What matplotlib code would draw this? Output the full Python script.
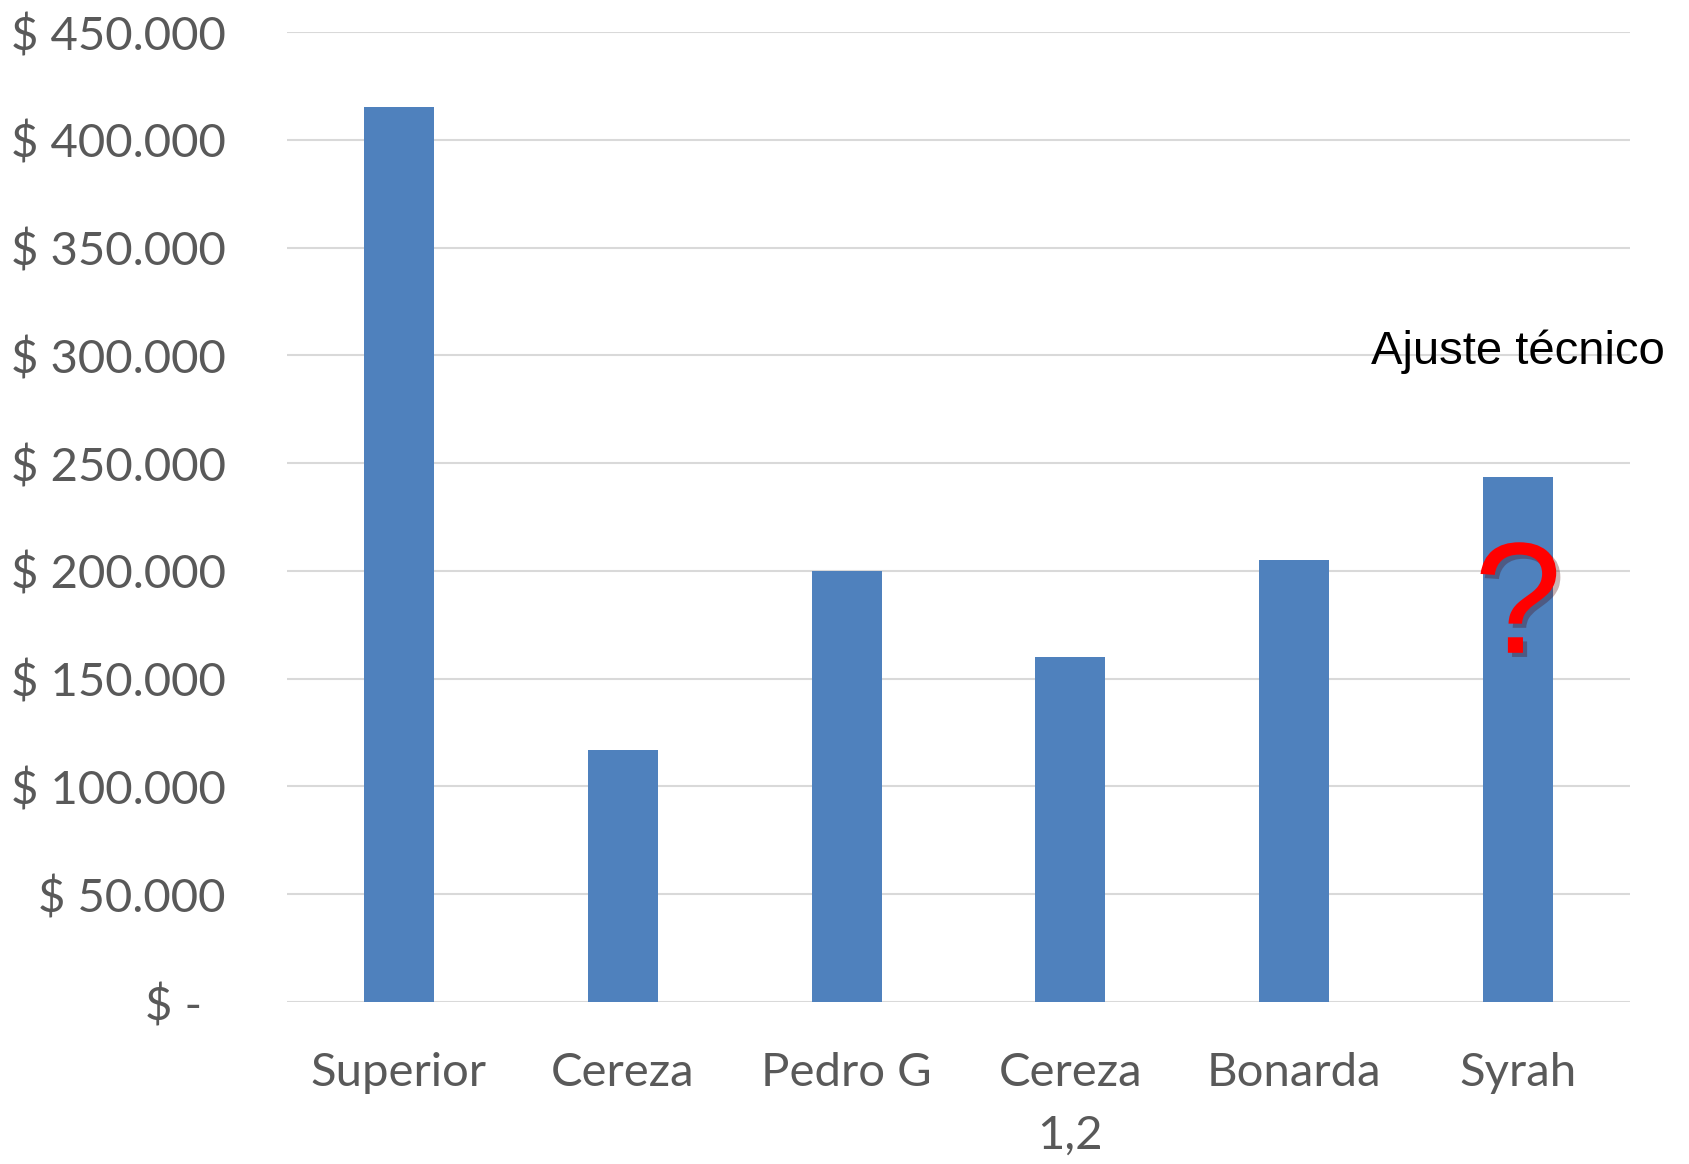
import matplotlib
matplotlib.use("Agg")
import matplotlib.pyplot as plt
import matplotlib.patheffects as pe

categorias = ["Superior", "Cereza", "Pedro G", "Cereza\n1,2", "Bonarda", "Syrah"]
precios = [415000, 117000, 200000, 160000, 205000, 243500]

ticks_y = [0, 50000, 100000, 150000, 200000, 250000, 300000, 350000, 400000, 450000]
etiquetas_y = ["$ -  ", "$ 50.000", "$ 100.000", "$ 150.000", "$ 200.000",
               "$ 250.000", "$ 300.000", "$ 350.000", "$ 400.000", "$ 450.000"]

nota = "Ajuste técnico"
nota_y = 296000
pregunta_y = 162000

fig = plt.figure(figsize=(16.9, 11.64), dpi=100)
ax = fig.add_axes([287 / 1690, 162 / 1164, 1343 / 1690, 970 / 1164])

x = range(len(categorias))
ax.bar(x, precios, width=0.313, color="#4F81BD", zorder=2)

ax.set_xlim(-0.5, len(categorias) - 0.5)
ax.set_ylim(0, 450000)
ax.set_yticks(ticks_y)
ax.set_yticklabels(etiquetas_y)
ax.set_xticks(list(x))
ax.set_xticklabels(categorias, linespacing=1.6)

ax.grid(axis="y", color="#D9D9D9", linewidth=1.5, zorder=0)
ax.set_axisbelow(True)
for s in ax.spines.values():
    s.set_visible(False)

ax.tick_params(axis="both", length=0, labelsize=34, labelcolor="#595959")
ax.tick_params(axis="y", pad=44)
ax.tick_params(axis="x", pad=36)
for lab in ax.get_xticklabels() + ax.get_yticklabels():
    lab.set_family("Lato")

ax.text(5, nota_y, nota, ha="center", va="baseline", fontsize=34,
        family="Liberation Sans", color="black", zorder=4, clip_on=False)

ax.text(5, pregunta_y, "?", ha="center", va="baseline", fontsize=114,
        family="Liberation Sans", color="#FF0000", zorder=4,
        path_effects=[pe.SimplePatchShadow(offset=(3, -3), alpha=0.3), pe.Normal()])

fig.savefig("out.png", dpi=100)
